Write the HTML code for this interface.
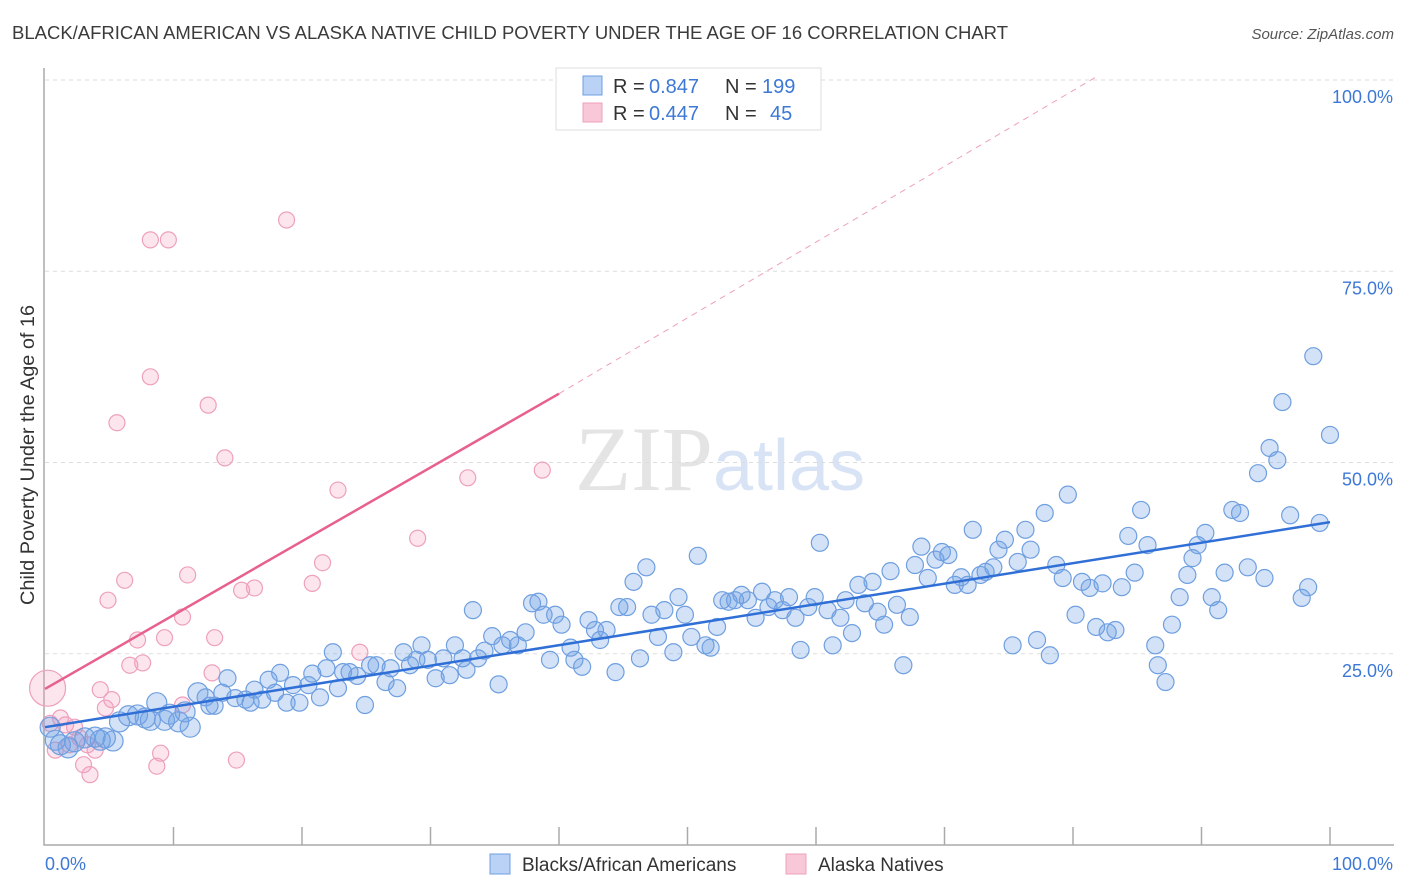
<!DOCTYPE html>
<html><head><meta charset="utf-8"><style>
body{margin:0;background:#fff;font-family:"Liberation Sans",sans-serif;}
svg{display:block}
</style></head><body>
<svg id="chart" width="1406" height="892" viewBox="0 0 1406 892" xmlns="http://www.w3.org/2000/svg">
<text x="12" y="39" font-size="18" fill="#3b3b3b" textLength="996" lengthAdjust="spacingAndGlyphs">BLACK/AFRICAN AMERICAN VS ALASKA NATIVE CHILD POVERTY UNDER THE AGE OF 16 CORRELATION CHART</text>
<text x="1394" y="39" font-size="15" fill="#555" text-anchor="end" font-style="italic">Source: ZipAtlas.com</text>
<text x="720" y="490" font-size="92" text-anchor="middle" fill="#e4e4e4" font-family="Liberation Serif,serif">ZIP<tspan fill="#d8e4f5" font-family="Liberation Sans,sans-serif" font-size="72">atlas</tspan></text>
<g id="grid"></g>
<g id="marks"></g>
<text transform="translate(34,455) rotate(-90)" font-size="19" fill="#333" text-anchor="middle" textLength="300" lengthAdjust="spacingAndGlyphs">Child Poverty Under the Age of 16</text>
<g>
<rect x="556" y="68" width="265" height="62" fill="#fff" stroke="#ddd"/>
<rect x="583" y="76" width="19" height="19" fill="#b9d2f5" stroke="#6f9fe0"/>
<rect x="583" y="103" width="19" height="19" fill="#f8c8d8" stroke="#eea0bc"/>
<text x="613" y="93" font-size="20" fill="#333">R =</text>
<text x="649" y="93" font-size="20" fill="#3d78d6">0.847</text>
<text x="725" y="93" font-size="20" fill="#333">N =</text>
<text x="762" y="93" font-size="20" fill="#3d78d6">199</text>
<text x="613" y="120" font-size="20" fill="#333">R =</text>
<text x="649" y="120" font-size="20" fill="#3d78d6">0.447</text>
<text x="725" y="120" font-size="20" fill="#333">N =</text>
<text x="770" y="120" font-size="20" fill="#3d78d6">45</text>
</g>
<g>
<rect x="490" y="854" width="20" height="20" fill="#b9d2f5" stroke="#6f9fe0"/>
<text x="522" y="871" font-size="19" fill="#333">Blacks/African Americans</text>
<rect x="786" y="854" width="20" height="20" fill="#f8c8d8" stroke="#eea0bc"/>
<text x="818" y="871" font-size="19" fill="#333">Alaska Natives</text>
</g>
</svg>
<script>
const yTicks=[25,50,75,100];
const yTickLabels=["25.0%","50.0%","75.0%","100.0%"];
const xTicks=[0,10,20,30,40,50,60,70,80,90,100];
const blueX=[0.4,0.8,1.2,1.8,2.3,3.1,3.9,4.3,4.7,5.3,5.8,6.5,7.2,7.8,8.2,8.7,9.3,9.7,10.4,10.9,11.3,11.9,12.5,12.8,13.2,13.8,14.2,14.8,15.6,16,16.3,16.9,17.4,17.9,18.3,18.8,19.3,19.8,20.5,20.8,21.4,21.9,22.4,22.8,23.2,23.7,24.3,24.9,25.3,25.8,26.5,26.9,27.4,27.9,28.4,28.9,29.3,29.8,30.4,31,31.5,31.9,32.5,32.8,33.3,33.7,34.2,34.8,35.3,35.6,36.2,36.8,37.4,37.9,38.4,38.8,39.3,39.7,40.2,40.9,41.2,41.8,42.3,42.8,43.2,43.7,44.4,44.7,45.3,45.8,46.3,46.8,47.2,47.7,48.2,48.9,49.3,49.8,50.3,50.8,51.4,51.8,52.3,52.7,53.2,53.7,54.2,54.7,55.3,55.8,56.3,56.8,57.4,57.9,58.4,58.8,59.4,59.9,60.3,60.9,61.3,61.9,62.3,62.8,63.3,63.8,64.4,64.8,65.3,65.8,66.3,66.8,67.3,67.7,68.2,68.7,69.3,69.8,70.3,70.8,71.3,71.8,72.2,72.8,73.2,73.8,74.2,74.7,75.3,75.7,76.3,76.7,77.2,77.8,78.2,78.7,79.2,79.6,80.2,80.7,81.3,81.8,82.3,82.7,83.3,83.8,84.3,84.8,85.3,85.8,86.4,86.6,87.2,87.7,88.3,88.9,89.3,89.7,90.3,90.8,91.3,91.8,92.4,93,93.6,94.4,94.9,95.3,95.9,96.3,96.9,97.8,98.3,98.7,99.2,100];
const blueY=[15.4,13.7,13.1,12.7,13.5,14,14.1,13.7,14,13.6,16.1,16.9,17,16.6,16.3,18.6,16.3,17.1,16.1,17.4,15.4,19.9,19.3,18.2,18.2,19.9,21.8,19.2,19,18.6,20.3,19,21.6,19.9,22.5,18.6,20.9,18.6,20.9,22.4,19.3,23.1,25.2,20.5,22.6,22.6,22.1,18.3,23.5,23.5,21.3,23.1,20.5,25.2,23.5,24.2,26.1,24.2,21.8,24.4,22.2,26.1,24.4,22.9,30.7,24.4,25.4,27.3,21,26.1,26.8,26.1,27.8,31.6,31.8,30.1,24.2,30.1,28.8,25.8,24.2,23.3,29.4,28.1,26.8,28.1,22.6,31.1,31.1,34.4,24.4,36.3,30.1,27.2,30.7,25.2,32.4,30.1,27.2,37.8,26.1,25.8,28.5,32,31.8,32,32.7,32,29.7,33.1,31.1,32,30.7,32.4,29.7,25.5,31.1,32.4,39.5,30.7,26.1,29.7,32,27.7,34,31.6,34.4,30.5,28.8,35.8,31.4,23.5,29.8,36.6,39,34.9,37.3,38.3,37.9,34,35,34,41.2,35.3,35.7,36.3,38.6,39.9,26.1,37,41.2,38.6,26.8,43.4,24.8,36.6,34.9,45.8,30.1,34.4,33.6,28.5,34.2,27.8,28.1,33.7,40.4,35.6,43.8,39.2,26.1,23.5,21.3,28.8,32.4,35.3,37.5,39.2,40.8,32.4,30.7,35.6,43.8,43.4,36.3,48.6,34.9,51.9,50.3,57.9,43.1,32.3,33.7,63.9,42.1,53.6];
const pinkX=[0.2,0.4,0.8,1.2,1.6,1.9,2.3,2.7,3,3.3,3.5,3.9,4.3,4.7,4.9,5.2,5.6,6.2,6.6,7.2,7.6,8.2,8.2,8.7,9,9.3,9.6,10.7,10.7,11.1,12.7,13,13.2,14,14.9,15.3,16.3,18.8,20.8,21.6,22.8,24.5,29,32.9,38.7];
const pinkY=[20.5,15.9,12.4,16.6,15.7,13.1,15.4,14,10.5,13.1,9.2,12.4,20.3,17.9,32,19,55.2,34.6,23.5,26.8,23.8,79.1,61.2,10.3,12,27.1,79.1,18.3,29.8,35.3,57.5,22.5,27.1,50.6,11.1,33.3,33.6,81.7,34.2,36.9,46.4,25.2,40.1,48,49];
const blueFit=[15.4,42.2];
const pinkFit=[20.4,59.0,100.3];
const NS="http://www.w3.org/2000/svg";
const X=v=>45+v*12.85, Y=v=>845-v*7.65;
function mk(tag,attrs,parent){const e=document.createElementNS(NS,tag);for(const k in attrs)e.setAttribute(k,attrs[k]);parent.appendChild(e);return e;}
const grid=document.getElementById('grid'), marks=document.getElementById('marks');
yTicks.forEach((t,i)=>{
  const l=mk('line',{x1:45,x2:1394,y1:Y(t),y2:Y(t),stroke:'#ddd','stroke-dasharray':'4,4'},grid);
  
  
  const tx=mk('text',{x:1393,y:Y(t)+23,'font-size':18,fill:'#3d78d6','text-anchor':'end'},grid);
  tx.textContent=yTickLabels[i];
  
  
});
const ax=mk('path',{d:`M44,68 L44,845 L1394,845`,fill:'none',stroke:'#aaa','stroke-width':1.5},grid);


xTicks.forEach(t=>{
  if(t===0)return;
  const l=mk('line',{x1:X(t),x2:X(t),y1:827,y2:845,stroke:'#aaa','stroke-width':1.5},grid);
  
  
});
const x0=mk('text',{x:45,y:870,'font-size':18,fill:'#3d78d6'},grid);x0.textContent='0.0%';


const x1=mk('text',{x:1393,y:870,'font-size':18,fill:'#3d78d6','text-anchor':'end'},grid);x1.textContent='100.0%';


pinkX.forEach((v,i)=>{
  const c=mk('circle',{cx:X(v),cy:Y(pinkY[i]),r:i===0?18:8,fill:'rgba(244,160,190,0.28)',stroke:'#eea0bc','stroke-width':1.2},marks);
  
  
});
blueX.forEach((v,i)=>{
  const c=mk('circle',{cx:X(v),cy:Y(blueY[i]),r:v<12?10:8.5,fill:'rgba(110,160,230,0.3)',stroke:'#6f9fe0','stroke-width':1.2},marks);
  
  
});
const bl=mk('line',{x1:X(0),y1:Y(blueFit[0]),x2:X(100),y2:Y(blueFit[1]),stroke:'#2f6fd6','stroke-width':2.5},marks);


const pl=mk('line',{x1:X(0),y1:Y(pinkFit[0]),x2:X(40),y2:Y(pinkFit[1]),stroke:'#e8608d','stroke-width':2.5},marks);


const pd=mk('line',{x1:X(40),y1:Y(pinkFit[1]),x2:X(81.7),y2:Y(pinkFit[2]),stroke:'#eea0bc','stroke-width':1,'stroke-dasharray':'6,5'},marks);


</script>
</body></html>
